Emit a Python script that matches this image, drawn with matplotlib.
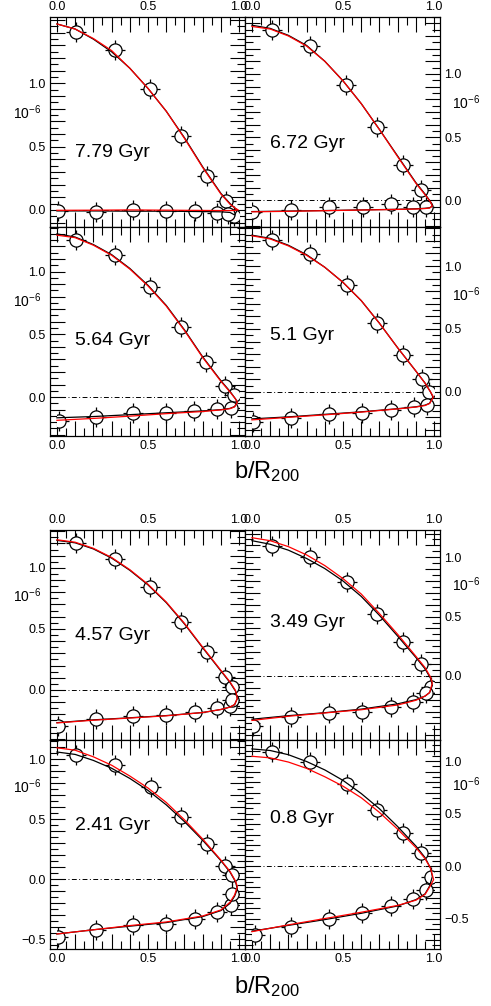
import numpy as np
import matplotlib
matplotlib.use('agg')

import matplotlib.pyplot as plt
from matplotlib.ticker import MultipleLocator, FuncFormatter
from matplotlib.patches import Rectangle
from matplotlib.transforms import blended_transform_factory

plt.rcParams['font.family'] = ['Liberation Sans', 'DejaVu Sans']
plt.rcParams['mathtext.fontset'] = 'custom'
plt.rcParams['mathtext.rm'] = 'Liberation Sans'
plt.rcParams['mathtext.it'] = 'Liberation Sans:italic'

# panel ages, order: block1 (TL, TR, BL, BR), block2 (TL, TR, BL, BR)
ages = ['7.79', '6.72', '5.64', '5.1', '4.57', '3.49', '2.41', '0.8']
ylims = [(-0.135, 1.525), (-0.21, 1.45), (-0.31, 1.355), (-0.35, 1.31),
         (-0.41, 1.31), (-0.54, 1.23), (-0.58, 1.16), (-0.79, 1.20)]
# y values that carry a tick label in each panel
ylabelled = [[0, 0.5, 1.0]] * 6 + [[-0.5, 0, 0.5, 1.0]] * 2
xlabelled = [0, 0.5, 1.0]

# measured points (upper branch then lower branch)
pts_x = [
    [0.107, 0.317, 0.512, 0.681, 0.821, 0.927, 0.973, 0.007, 0.213, 0.417, 0.6, 0.76, 0.876, 0.94],
    [0.109, 0.32, 0.514, 0.687, 0.831, 0.928, 0.956, -0.002, 0.215, 0.424, 0.608, 0.762, 0.885],
    [0.107, 0.317, 0.512, 0.681, 0.818, 0.923, 0.969, 0.013, 0.213, 0.417, 0.6, 0.754, 0.876, 0.955],
    [0.109, 0.32, 0.519, 0.687, 0.831, 0.934, 0.972, 0.007, 0.214, 0.421, 0.606, 0.762, 0.888, 0.961],
    [0.107, 0.317, 0.512, 0.681, 0.821, 0.923, 0.963, 0.007, 0.213, 0.417, 0.6, 0.76, 0.876, 0.949, 0.963],
    [0.109, 0.32, 0.519, 0.687, 0.831, 0.93, 0.98, 0.007, 0.214, 0.421, 0.606, 0.762, 0.885, 0.956],
    [0.107, 0.317, 0.517, 0.681, 0.821, 0.923, 0.963, 0.007, 0.213, 0.417, 0.6, 0.76, 0.876, 0.955, 0.963],
    [0.109, 0.32, 0.519, 0.687, 0.831, 0.93, 0.98, 0.017, 0.214, 0.421, 0.606, 0.762, 0.885, 0.957],
]
pts_y = [
    [1.407, 1.264, 0.952, 0.587, 0.270, 0.071, -0.05, -0.005, -0.016, 0.0, -0.005, -0.005, -0.026, -0.03],
    [1.349, 1.217, 0.913, 0.582, 0.278, 0.085, -0.053, -0.093, -0.074, -0.053, -0.048, -0.032, -0.048],
    [1.251, 1.131, 0.874, 0.560, 0.276, 0.088, 0.016, -0.189, -0.162, -0.13, -0.125, -0.112, -0.096, -0.085],
    [1.206, 1.095, 0.849, 0.55, 0.294, 0.10, 0.0, -0.235, -0.209, -0.175, -0.164, -0.143, -0.116, -0.103],
    [1.202, 1.074, 0.842, 0.56, 0.309, 0.104, 0.027, -0.295, -0.24, -0.213, -0.205, -0.178, -0.15, -0.131, -0.082],
    [1.092, 1.003, 0.793, 0.521, 0.289, 0.101, -0.09, -0.42, -0.35, -0.314, -0.30, -0.258, -0.216, -0.145],
    [1.033, 0.95, 0.769, 0.519, 0.297, 0.108, 0.033, -0.48, -0.419, -0.378, -0.369, -0.328, -0.272, -0.217, -0.119],
    [1.09, 0.987, 0.779, 0.532, 0.314, 0.122, -0.103, -0.66, -0.584, -0.503, -0.449, -0.385, -0.311, -0.224],
]

# model curves: upper branch on b_upper, turning point, lower branch on b_lower
b_upper = [0, 0.1, 0.2, 0.3, 0.4, 0.5, 0.6, 0.7, 0.8, 0.9, 0.95, 0.98]
b_lower = [0.975, 0.95, 0.9, 0.8, 0.6, 0.4, 0.2, 0]

black_up = [
    [1.47, 1.43, 1.35, 1.25, 1.12, 0.96, 0.78, 0.57, 0.34, 0.13, 0.05, 0.01],
    [1.385, 1.36, 1.305, 1.225, 1.10, 0.945, 0.765, 0.56, 0.35, 0.14, 0.05, -0.01],
    [1.30, 1.275, 1.215, 1.135, 1.025, 0.89, 0.73, 0.535, 0.32, 0.13, 0.045, -0.015],
    [1.245, 1.22, 1.165, 1.09, 0.99, 0.87, 0.725, 0.545, 0.35, 0.165, 0.07, 0.0],
    [1.225, 1.205, 1.155, 1.08, 0.98, 0.86, 0.715, 0.54, 0.345, 0.155, 0.06, -0.01],
    [1.14, 1.11, 1.06, 0.99, 0.905, 0.80, 0.67, 0.51, 0.335, 0.155, 0.06, -0.02],
    [1.06, 1.04, 0.99, 0.925, 0.84, 0.74, 0.62, 0.48, 0.325, 0.155, 0.06, -0.02],
    [1.115, 1.10, 1.06, 0.995, 0.915, 0.815, 0.69, 0.545, 0.375, 0.19, 0.08, -0.02],
]
black_turn = [(0.99, 0.0), (0.99, -0.045), (0.99, -0.04), (0.993, -0.04),
              (0.99, -0.07), (0.99, -0.08), (0.99, -0.08), (0.99, -0.10)]
black_low = [
    [-0.04, -0.02, -0.015, -0.013, -0.01, -0.01, -0.008, -0.008],
    [-0.058, -0.062, -0.066, -0.07, -0.075, -0.08, -0.084, -0.088],
    [-0.075, -0.09, -0.10, -0.11, -0.125, -0.14, -0.155, -0.165],
    [-0.09, -0.105, -0.118, -0.133, -0.158, -0.178, -0.198, -0.214],
    [-0.12, -0.14, -0.16, -0.185, -0.21, -0.228, -0.245, -0.268],
    [-0.14, -0.17, -0.20, -0.235, -0.28, -0.31, -0.335, -0.365],
    [-0.14, -0.20, -0.26, -0.31, -0.36, -0.39, -0.42, -0.455],
    [-0.19, -0.265, -0.32, -0.38, -0.45, -0.51, -0.565, -0.62],
]

red_up = [
    [1.47, 1.43, 1.355, 1.26, 1.12, 0.96, 0.78, 0.565, 0.335, 0.125, 0.045, 0.012],
    [1.375, 1.355, 1.30, 1.22, 1.10, 0.945, 0.765, 0.56, 0.345, 0.135, 0.045, -0.012],
    [1.29, 1.27, 1.21, 1.13, 1.02, 0.885, 0.725, 0.53, 0.315, 0.125, 0.04, -0.015],
    [1.24, 1.215, 1.16, 1.085, 0.99, 0.87, 0.725, 0.545, 0.35, 0.165, 0.07, 0.0],
    [1.23, 1.21, 1.16, 1.085, 0.985, 0.865, 0.72, 0.545, 0.35, 0.16, 0.065, -0.005],
    [1.165, 1.14, 1.09, 1.02, 0.93, 0.82, 0.69, 0.525, 0.35, 0.165, 0.07, -0.01],
    [1.095, 1.075, 1.02, 0.95, 0.86, 0.76, 0.64, 0.495, 0.335, 0.16, 0.065, -0.015],
    [1.045, 1.03, 0.99, 0.93, 0.85, 0.76, 0.65, 0.51, 0.35, 0.175, 0.07, -0.02],
]
red_turn = [(0.995, 0.0), (0.99, -0.045), (0.99, -0.04), (0.996, -0.04),
            (0.99, -0.068), (0.99, -0.06), (0.99, -0.06), (0.997, -0.13)]
red_low = [
    [-0.004, -0.005, -0.005, -0.004, -0.002, 0.0, -0.002, -0.003],
    [-0.06, -0.064, -0.068, -0.071, -0.076, -0.081, -0.086, -0.09],
    [-0.078, -0.092, -0.102, -0.115, -0.132, -0.152, -0.17, -0.185],
    [-0.092, -0.108, -0.12, -0.135, -0.16, -0.182, -0.202, -0.222],
    [-0.12, -0.14, -0.16, -0.185, -0.212, -0.23, -0.248, -0.27],
    [-0.14, -0.17, -0.205, -0.245, -0.285, -0.312, -0.34, -0.375],
    [-0.13, -0.19, -0.255, -0.305, -0.355, -0.385, -0.42, -0.455],
    [-0.20, -0.27, -0.325, -0.375, -0.44, -0.50, -0.56, -0.625],
]


def make_fmt(allowed):
    def fmt(v, pos):
        if not any(abs(v - a) < 1e-6 for a in allowed):
            return ''
        s = f'{v:.1f}'
        if s == '-0.0':
            s = '0.0'
        return s.replace('-', '\u2212')
    return FuncFormatter(fmt)


W, H = 491, 1006
fig = plt.figure(figsize=(W / 100, H / 100), dpi=100)

col_left = [50, 245]
col_w = 195
row_top = [17, 227, 530, 740]
row_h = [210, 209, 210, 209]

for i in range(8):
    block, k = divmod(i, 4)
    r, c = divmod(k, 2)
    rr = block * 2 + r
    ax = fig.add_axes([col_left[c] / W, 1 - (row_top[rr] + row_h[rr]) / H,
                       col_w / W, row_h[rr] / H])
    ylo, yhi = ylims[i]
    ax.set_xlim(-0.038, 1.032)
    ax.set_ylim(ylo, yhi)

    ax.axhline(0, color='black', lw=0.7, ls=(0, (5, 2.5, 1, 2.5)), zorder=2)

    clip = Rectangle((0, ylo), 1, yhi - ylo, transform=ax.transData,
                     fill=False, visible=False)
    ax.add_patch(clip)
    cross, = ax.plot(pts_x[i], pts_y[i], ls='none', marker='+', ms=15,
                     mew=0.9, color='black', zorder=3)
    circ, = ax.plot(pts_x[i], pts_y[i], ls='none', marker='o', ms=9.5,
                    mfc='white', mec='black', mew=0.9, zorder=4)
    cross.set_clip_path(clip)
    circ.set_clip_path(clip)

    bx = b_upper + [black_turn[i][0]] + b_lower
    by = black_up[i] + [black_turn[i][1]] + black_low[i]
    rx = b_upper + [red_turn[i][0]] + b_lower
    ry = red_up[i] + [red_turn[i][1]] + red_low[i]
    ax.plot(bx, by, color='black', lw=0.9, zorder=5)
    ax.plot(rx, ry, color='red', lw=0.9, zorder=6)

    ax.text(0.1, 0.45, ages[i] + ' Gyr', fontsize=14, ha='left', va='center',
            zorder=7)

    for axis in (ax.xaxis, ax.yaxis):
        axis.set_major_locator(MultipleLocator(0.1))
        axis.set_minor_locator(MultipleLocator(0.05))
    ax.xaxis.set_major_formatter(make_fmt(xlabelled))
    ax.yaxis.set_major_formatter(make_fmt(ylabelled[i]))
    ax.tick_params(which='both', direction='in', top=True, right=True,
                   width=0.8, labelsize=9, pad=3)
    ax.tick_params(which='major', length=11)
    ax.tick_params(which='minor', length=5.5)
    ax.tick_params(labeltop=(r == 0), labelbottom=(r == 1),
                   labelleft=(c == 0), labelright=(c == 1))
    for sp in ax.spines.values():
        sp.set_linewidth(0.9)

    tr = blended_transform_factory(ax.transAxes, ax.transData)
    if c == 0:
        ax.text(-0.045, 0.77, r'10$^{-6}$', transform=tr, fontsize=10,
                ha='right', va='center')
    else:
        ax.text(1.06, 0.77, r'10$^{-6}$', transform=tr, fontsize=10,
                ha='left', va='center')

fig.text(267 / W, 1 - 478 / H, r'b/R$_{200}$', fontsize=17, ha='center',
         va='baseline')
fig.text(267 / W, 1 - 993 / H, r'b/R$_{200}$', fontsize=17, ha='center',
         va='baseline')

fig.savefig('out.png', dpi=100)
